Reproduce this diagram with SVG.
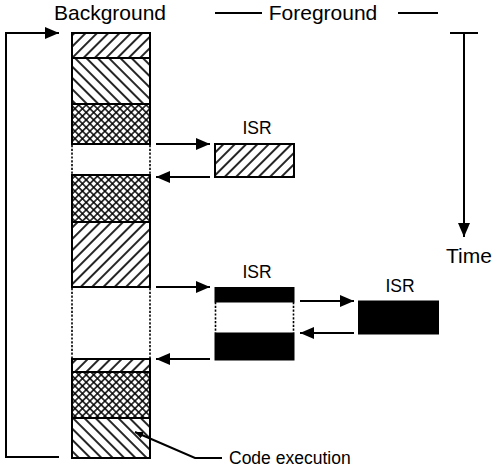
<svg xmlns="http://www.w3.org/2000/svg" width="501" height="475" viewBox="0 0 501 475">
<style>
text{font-family:"Liberation Sans",Arial,sans-serif;fill:#000}
.big{font-size:21px}
.sm{font-size:17.5px}
.seg{stroke:#000;stroke-width:2}
.dot{stroke:#000;stroke-width:1.6;stroke-dasharray:2.2 1.6;fill:none}
.ln{stroke:#000;stroke-width:2;fill:none}
.blk{fill:#000;stroke:#000;stroke-width:1}
</style>
<defs>
<pattern id="fwd" patternUnits="userSpaceOnUse" width="8" height="8" patternTransform="rotate(45)">
<rect width="8" height="8" fill="#fff"/><line x1="4" y1="0" x2="4" y2="8" stroke="#000" stroke-width="1.7"/>
</pattern>
<pattern id="bwd" patternUnits="userSpaceOnUse" width="8" height="8" patternTransform="rotate(-45)">
<rect width="8" height="8" fill="#fff"/><line x1="4" y1="0" x2="4" y2="8" stroke="#000" stroke-width="1.7"/>
</pattern>
<pattern id="xh" patternUnits="userSpaceOnUse" width="5.3" height="5.3" patternTransform="rotate(45)">
<rect width="5.3" height="5.3" fill="#fff"/><line x1="2.65" y1="0" x2="2.65" y2="5.3" stroke="#000" stroke-width="1.45"/><line x1="0" y1="2.65" x2="5.3" y2="2.65" stroke="#000" stroke-width="1.45"/>
</pattern>
<marker id="ar" markerUnits="userSpaceOnUse" markerWidth="14" markerHeight="12" refX="14" refY="6" orient="auto" viewBox="0 0 14 12">
<path d="M0,0 L14,6 L0,12 z" fill="#000"/>
</marker>
<marker id="ars" markerUnits="userSpaceOnUse" markerWidth="8" markerHeight="7" refX="8" refY="3.5" orient="auto" viewBox="0 0 8 7">
<path d="M0,0 L8,3.5 L0,7 z" fill="#000"/>
</marker>
</defs>

<g id="labels">
<text class="big" x="110" y="20" text-anchor="middle">Background</text>
<text class="big" x="323" y="20" text-anchor="middle">Foreground</text>
<text class="big" x="469" y="263" text-anchor="middle">Time</text>
</g>

<g id="background-column">
<rect class="seg" x="72" y="33" width="78" height="25" fill="url(#fwd)"/>
<rect class="seg" x="72" y="58" width="78" height="46" fill="url(#bwd)"/>
<rect class="seg" x="72" y="104" width="78" height="40" fill="url(#xh)"/>
<line class="dot" x1="72" y1="145" x2="72" y2="175"/>
<line class="dot" x1="150" y1="145" x2="150" y2="175"/>
<rect class="seg" x="72" y="175" width="78" height="47" fill="url(#xh)"/>
<rect class="seg" x="72" y="222" width="78" height="65" fill="url(#fwd)"/>
<line class="dot" x1="72" y1="288" x2="72" y2="359"/>
<line class="dot" x1="150" y1="288" x2="150" y2="359"/>
<rect class="seg" x="72" y="359" width="78" height="13" fill="url(#fwd)"/>
<rect class="seg" x="72" y="372" width="78" height="46" fill="url(#xh)"/>
<rect class="seg" x="72" y="418" width="78" height="40" fill="url(#bwd)"/>
</g>

<g id="isr1">
<text class="sm" x="257" y="134" text-anchor="middle">ISR</text>
<rect class="seg" x="215" y="144" width="79" height="33" fill="url(#fwd)"/>
</g>

<g id="isr2">
<text class="sm" x="257" y="278" text-anchor="middle">ISR</text>
<rect class="blk" x="215" y="287.5" width="79" height="14.5"/>
<line class="dot" x1="215.5" y1="302" x2="215.5" y2="333"/>
<line class="dot" x1="293.5" y1="302" x2="293.5" y2="333"/>
<rect class="blk" x="215" y="333" width="79" height="27"/>
</g>

<g id="isr3">
<text class="sm" x="400" y="292" text-anchor="middle">ISR</text>
<rect class="blk" x="358.5" y="301" width="80" height="33"/>
</g>

<g id="time-axis">
<line class="ln" x1="450" y1="33" x2="478" y2="33"/>
<line class="ln" x1="464" y1="33" x2="464" y2="237" marker-end="url(#ar)"/>
<line class="ln" x1="215" y1="13" x2="262" y2="13"/>
<line class="ln" x1="398" y1="13" x2="438" y2="13"/>
</g>

<g id="code-execution">
<text class="sm" x="229" y="464">Code execution</text>
</g>

<g id="connectors">
<path class="ln" d="M59,457 H6 V33 H59" marker-end="url(#ar)"/>
<line class="ln" x1="156" y1="144" x2="210" y2="144" marker-end="url(#ar)"/>
<line class="ln" x1="210" y1="177" x2="156" y2="177" marker-end="url(#ar)"/>
<line class="ln" x1="156" y1="287" x2="210" y2="287" marker-end="url(#ar)"/>
<line class="ln" x1="210" y1="359" x2="156" y2="359" marker-end="url(#ar)"/>
<line class="ln" x1="300" y1="301" x2="354" y2="301" marker-end="url(#ar)"/>
<line class="ln" x1="354" y1="333" x2="300" y2="333" marker-end="url(#ar)"/>
<path class="ln" d="M222,458 H195 L135,432" marker-end="url(#ars)"/>
</g>
</svg>
